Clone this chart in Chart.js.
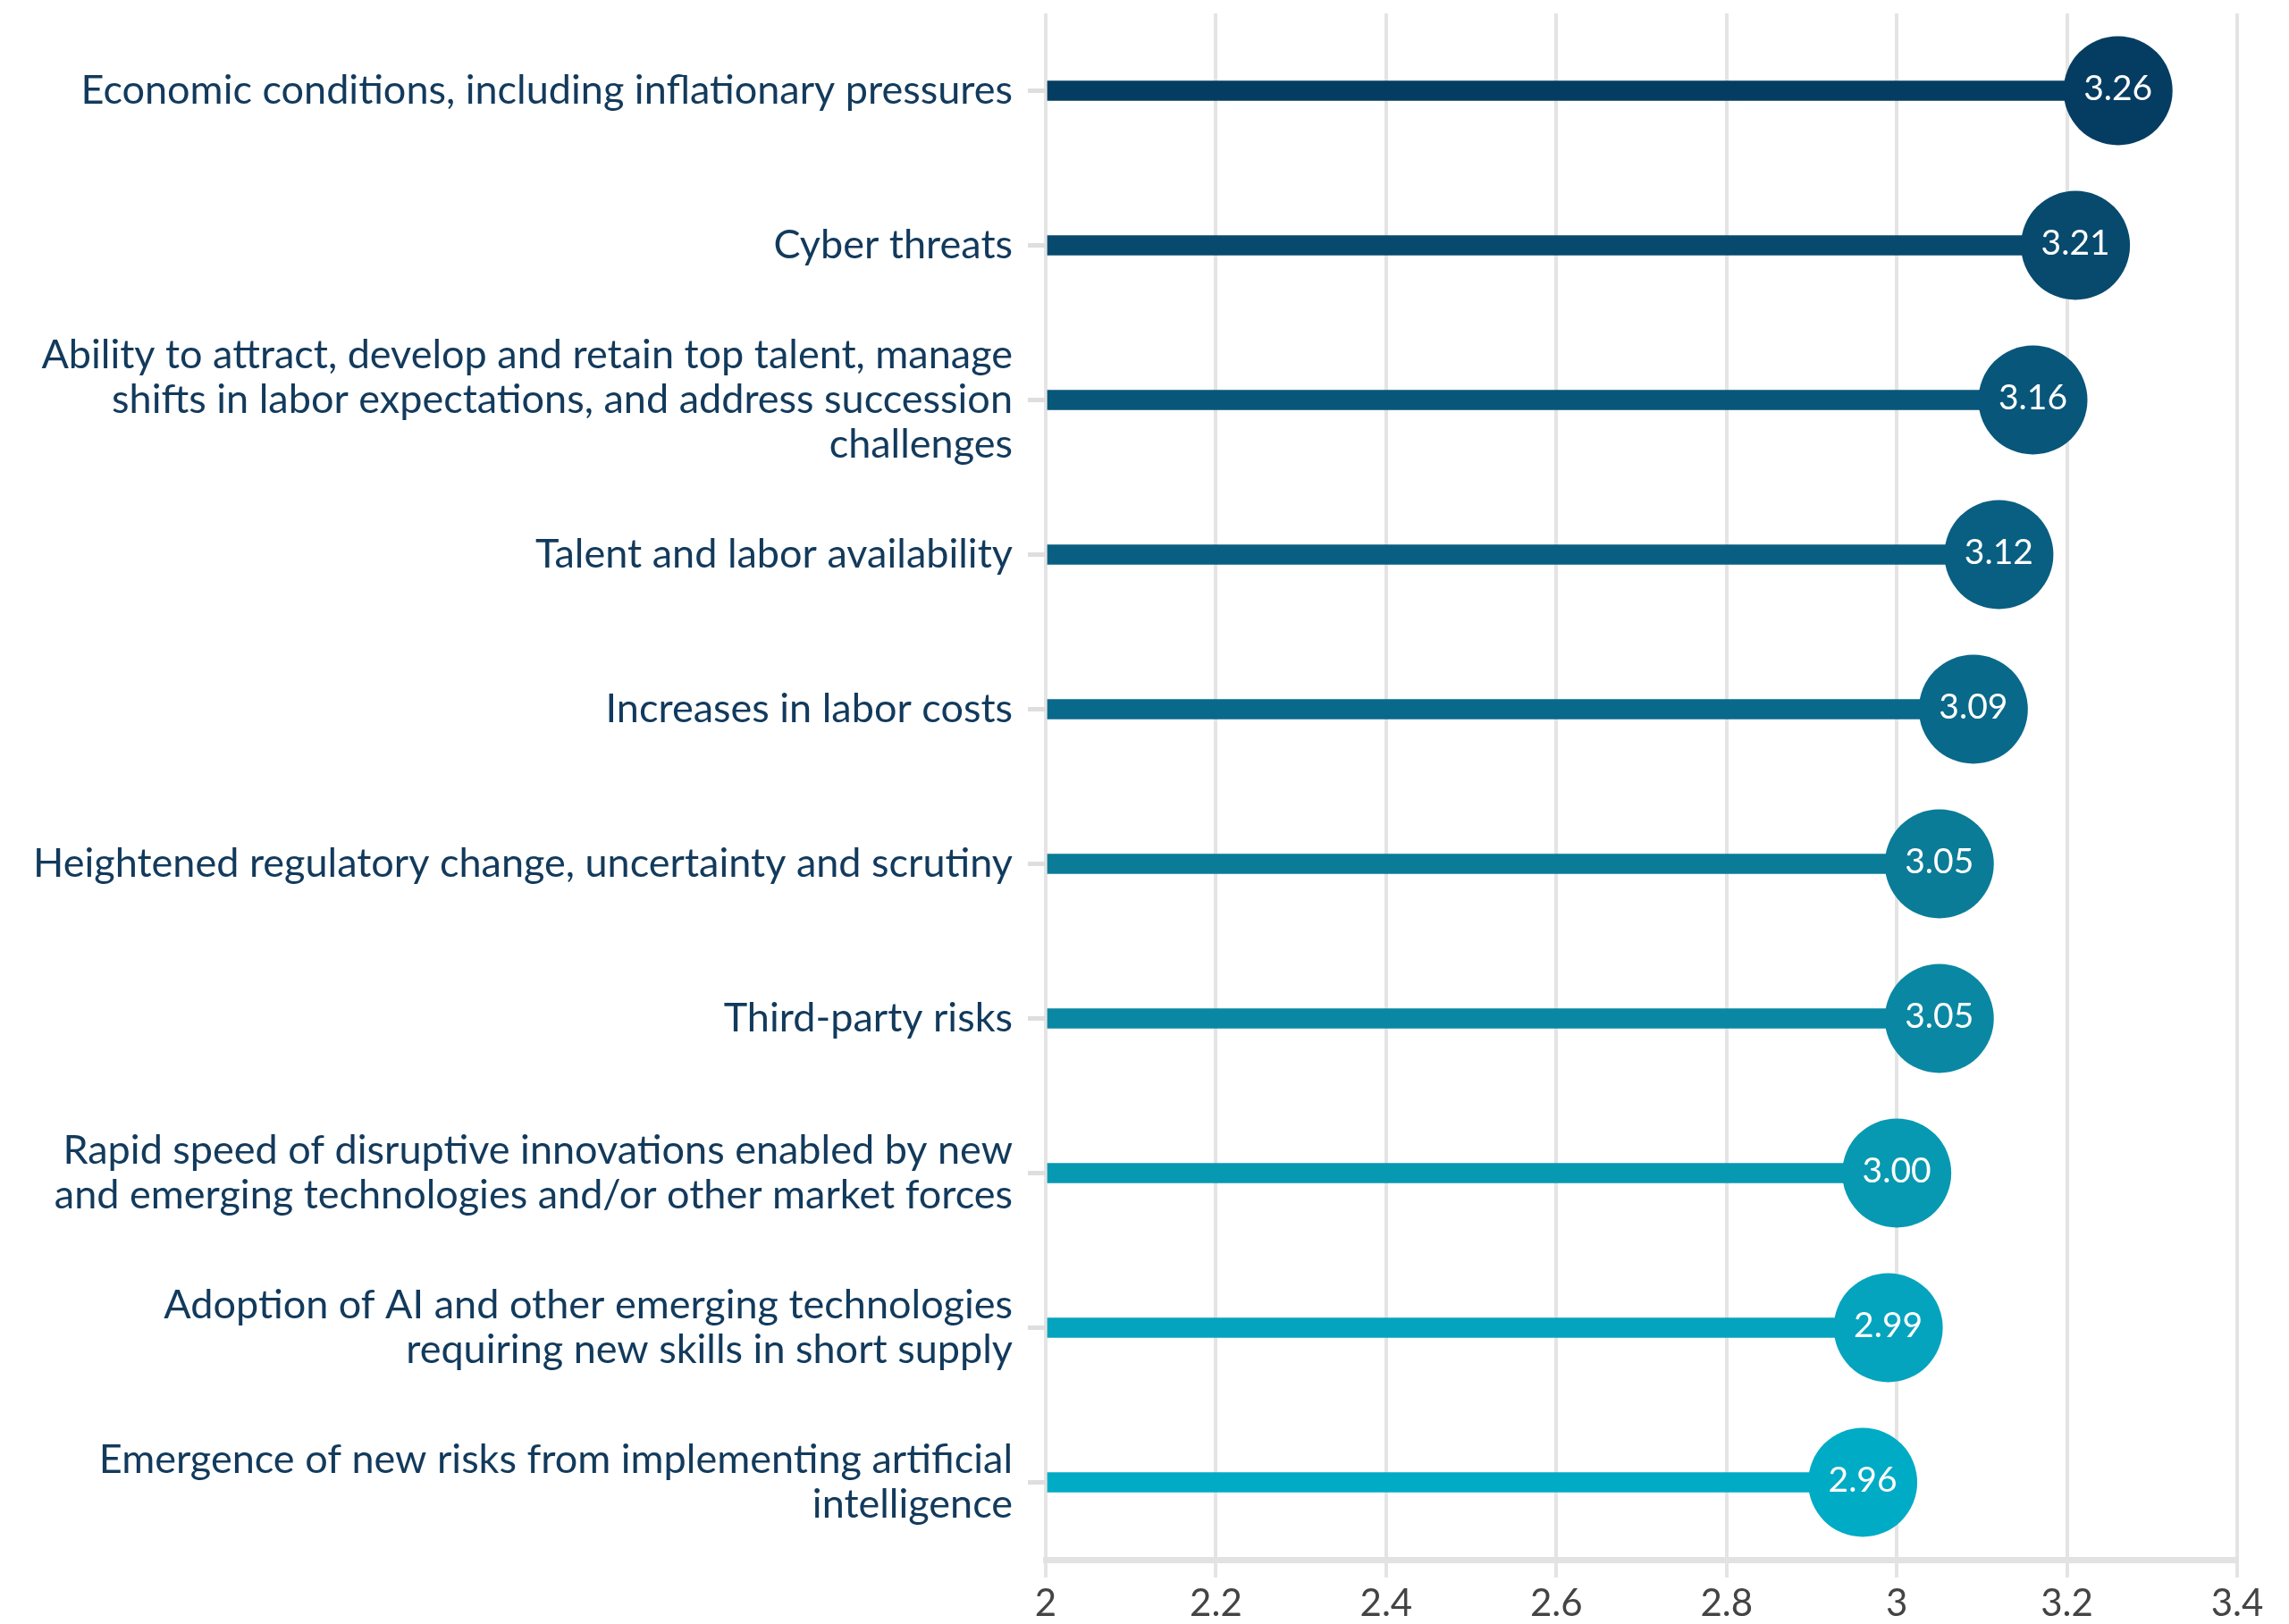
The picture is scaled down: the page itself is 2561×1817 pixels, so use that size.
<!DOCTYPE html>
<html>
<head>
<meta charset="utf-8">
<script src="https://cdn.jsdelivr.net/npm/chart.js@4/dist/chart.umd.min.js"></script>
<style>
  html, body { margin: 0; padding: 0; background: #ffffff; }
  #wrap { width: 2561px; height: 1817px; position: relative; }
</style>
</head>
<body>
<div id="wrap"><canvas id="riskChart"></canvas></div>
<script>
// =================== DATA ===================
const riskLabels = [
  "Economic conditions, including inflationary pressures",
  "Cyber threats",
  ["Ability to attract, develop and retain top talent, manage", "shifts in labor expectations, and address succession", "challenges"],
  "Talent and labor availability",
  "Increases in labor costs",
  "Heightened regulatory change, uncertainty and scrutiny",
  "Third-party risks",
  ["Rapid speed of disruptive innovations enabled by new", "and emerging technologies and/or other market forces"],
  ["Adoption of AI and other emerging technologies", "requiring new skills in short supply"],
  ["Emergence of new risks from implementing artificial", "intelligence"]
];
const riskScores = [3.26, 3.21, 3.16, 3.12, 3.09, 3.05, 3.05, 3.00, 2.99, 2.96];
const xTicks = [2, 2.2, 2.4, 2.6, 2.8, 3, 3.2, 3.4];

// dark navy -> teal, one per row
const rowColors = [
  "#053d62", "#074a6e", "#08567a", "#095f82", "#09698b",
  "#0a7c97", "#0a88a3", "#0799b2", "#04a4be", "#00abc5"
];

// =================== VALUE LABEL PLUGIN ===================
const bubbleLabels = {
  id: "bubbleLabels",
  afterDatasetsDraw(chart) {
    const meta = chart.getDatasetMeta(1);
    const ctx = chart.ctx;
    ctx.save();
    ctx.fillStyle = "#ffffff";
    ctx.font = "39px Lato";
    ctx.textAlign = "center";
    ctx.textBaseline = "middle";
    meta.data.forEach((pt, i) => {
      ctx.fillText(riskScores[i].toFixed(2), pt.x, pt.y - 2);
    });
    ctx.restore();
  }
};

// =================== CHART ===================
new Chart(document.getElementById("riskChart"), {
  type: "bar",
  data: {
    labels: riskLabels,
    datasets: [
      {
        data: riskScores,
        base: 2,
        backgroundColor: rowColors,
        barThickness: 22,
        borderWidth: 0,
        order: 2
      },
      {
        type: "line",
        indexAxis: "y",
        data: riskScores,
        showLine: false,
        clip: false,
        pointRadius: 61,
        pointHoverRadius: 61,
        pointBackgroundColor: rowColors,
        pointBorderWidth: 0,
        order: 1
      }
    ]
  },
  plugins: [bubbleLabels],
  options: {
    indexAxis: "y",
    responsive: true,
    maintainAspectRatio: false,
    animation: false,
    layout: { autoPadding: false, padding: { top: 15, right: 58, left: 0, bottom: 0 } },
    plugins: {
      legend: { display: false },
      tooltip: { enabled: false }
    },
    scales: {
      x: {
        type: "linear",
        min: 2,
        max: 3.4,
        afterBuildTicks(scale) {
          scale.ticks = xTicks.map(v => ({ value: v }));
        },
        afterFit(scale) { scale.height = 72; },
        grid: {
          color: "#e4e4e4",
          lineWidth: 4,
          tickLength: 20,
          tickColor: "#e4e4e4",
          tickWidth: 4
        },
        border: { display: true, color: "#e2e2e2", width: 7 },
        ticks: {
          color: "#444444",
          font: { family: "Lato", size: 42 },
          padding: 4,
          maxRotation: 0,
          callback: v => String(v)
        }
      },
      y: {
        afterFit(scale) {
          // fixed label column width, no extra room for the wrapped labels
          scale.width = 1170;
          scale.paddingTop = 0;
          scale.paddingBottom = 0;
        },
        grid: {
          offset: false,
          drawOnChartArea: false,
          tickLength: 20,
          tickColor: "#dedede",
          tickWidth: 5
        },
        border: { display: false },
        ticks: {
          color: "#123a5c",
          font: { family: "Lato", size: 45, lineHeight: 1.12 },
          padding: 17
        }
      }
    }
  }
});
</script>
</body>
</html>
